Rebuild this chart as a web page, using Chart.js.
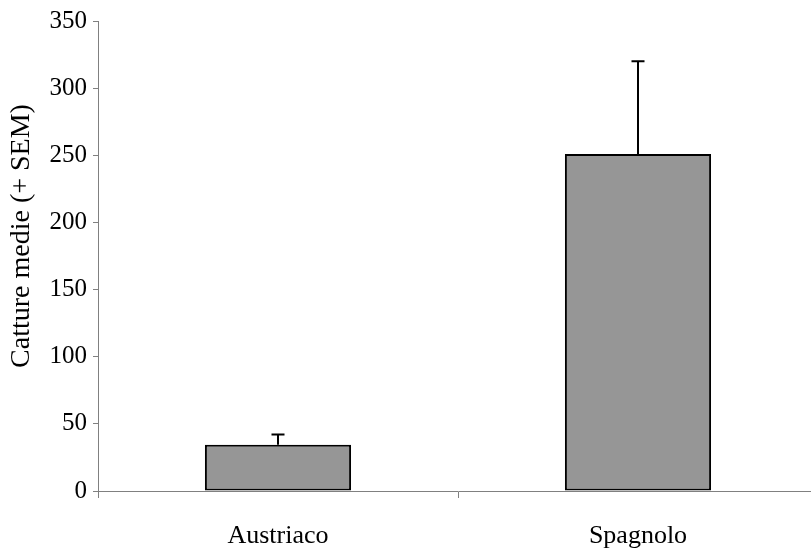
<!DOCTYPE html>
<html>
<head>
<meta charset="utf-8">
<script src="https://cdn.jsdelivr.net/npm/chart.js@4"></script>
<style>
  html, body { margin: 0; padding: 0; background: #fff; overflow: hidden; }
  #wrap { width: 811px; height: 550px; overflow: hidden; }
</style>
</head>
<body>
<div id="wrap"><canvas id="catchChart" width="818" height="550"></canvas></div>
<script>
const categories = ['Austriaco', 'Spagnolo'];
const meanCatches = [34.5, 251];
const semValues = [7.5, 69];
const yTicks = [0, 50, 100, 150, 200, 250, 300, 350];
const yTitle = 'Catture medie (+ SEM)';

const serif = '"Liberation Serif", "Times New Roman", serif';

// error bars only go up (+ SEM)
const errorBarPlugin = {
  id: 'errorBars',
  afterDatasetsDraw(chart) {
    const ctx = chart.ctx;
    const yScale = chart.scales.y;
    const meta = chart.getDatasetMeta(0);
    ctx.save();
    ctx.strokeStyle = '#000';
    ctx.lineWidth = 2;
    meta.data.forEach((bar, i) => {
      const top = yScale.getPixelForValue(meanCatches[i] + semValues[i]);
      ctx.beginPath();
      ctx.moveTo(bar.x, bar.y);
      ctx.lineTo(bar.x, top);
      ctx.moveTo(bar.x - 6.5, top);
      ctx.lineTo(bar.x + 6.5, top);
      ctx.stroke();
    });
    ctx.restore();
  }
};

const yTitlePlugin = {
  id: 'yTitle',
  afterDraw(chart) {
    const ctx = chart.ctx;
    ctx.save();
    ctx.translate(22, 236);
    ctx.rotate(-Math.PI / 2);
    ctx.fillStyle = '#000';
    ctx.font = '28px ' + serif;
    ctx.textAlign = 'center';
    ctx.textBaseline = 'middle';
    ctx.fillText(yTitle, 0, 0);
    ctx.restore();
  }
};

new Chart(document.getElementById('catchChart'), {
  type: 'bar',
  data: {
    labels: categories,
    datasets: [{
      data: meanCatches,
      backgroundColor: '#969696',
      borderColor: '#000',
      borderWidth: 2,
      borderSkipped: false,
      barPercentage: 0.406,
      categoryPercentage: 1
    }]
  },
  options: {
    responsive: false,
    animation: false,
    events: [],
    layout: { padding: { top: 21, right: 0, left: 0, bottom: 0 } },
    plugins: {
      legend: { display: false },
      tooltip: { enabled: false }
    },
    scales: {
      x: {
        grid: { drawOnChartArea: false, drawTicks: true, tickLength: 7, color: '#808080', offset: true },
        border: { color: '#808080', width: 1 },
        ticks: { color: '#000', font: { family: serif, size: 26 }, padding: 23, maxRotation: 0 },
        afterFit(scale) { scale.height = 59; }
      },
      y: {
        min: 0,
        max: 350,
        afterBuildTicks(scale) { scale.ticks = yTicks.map(v => ({ value: v })); },
        grid: { drawOnChartArea: false, drawTicks: true, tickLength: 5, color: '#808080' },
        border: { color: '#808080', width: 1 },
        ticks: { color: '#000', font: { family: serif, size: 25 }, padding: 6 },
        afterFit(scale) { scale.width = 98; }
      }
    }
  },
  plugins: [errorBarPlugin, yTitlePlugin]
});
</script>
</body>
</html>
